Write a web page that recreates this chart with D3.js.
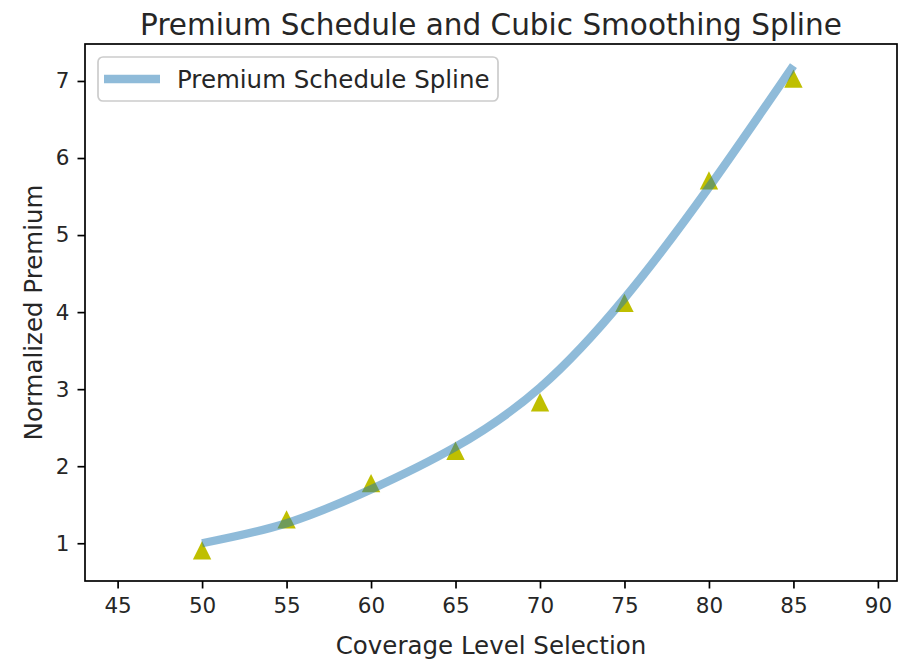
<!DOCTYPE html>
<html>
<head>
<meta charset="utf-8">
<script src="https://cdn.jsdelivr.net/npm/d3@7"></script>
<style>
  body { margin: 0; background: #fff; }
  text { font-family: "DejaVu Sans", sans-serif; fill: #262626; }
</style>
</head>
<body>
<div id="chart"></div>
<script>
// premium schedule points (the yellow triangles)
var coverage = [50, 55, 60, 65, 70, 75, 80, 85];
var premium = [0.91, 1.31, 1.78, 2.2, 2.83, 4.12, 5.71, 7.03];

var splineX = [50, 55, 60, 65, 70, 75, 80, 85];
var splineY = [1.0, 1.26, 1.7, 2.25, 3.02, 4.18, 5.62, 7.2];

var xTicks = [45, 50, 55, 60, 65, 70, 75, 80, 85, 90];
var yTicks = [1, 2, 3, 4, 5, 6, 7];

var svgWidth = 899;
var svgHeight = 662;

var chartMargin = {
    top: 44,
    right: 2,
    left: 85,
    bottom: 81};

var chartWidth = svgWidth - chartMargin.left - chartMargin.right;
var chartHeight = svgHeight - chartMargin.top - chartMargin.bottom;

var svg = d3.select("#chart")
    .append("svg")
    .attr("width", svgWidth)
    .attr("height", svgHeight);

var chartGroup = svg.append("g")
    .attr("transform", `translate(${chartMargin.left}, ${chartMargin.top})`);

var xLinearScale = d3.scaleLinear()
    .domain([43.07, 91.13])
    .range([0, chartWidth]);

var yLinearScale = d3.scaleLinear()
    .domain([0.51, 7.48])
    .range([chartHeight, 0]);

// axes
var bottomAxis = d3.axisBottom(xLinearScale).tickValues(xTicks).tickSize(7.5).tickPadding(9)
    .tickFormat(d3.format("d"));
var leftAxis = d3.axisLeft(yLinearScale).tickValues(yTicks).tickSize(7.5).tickPadding(8)
    .tickFormat(d3.format("d"));

var xAxis = chartGroup.append("g")
    .attr("transform", `translate(0, ${chartHeight})`)
    .call(bottomAxis);

var yAxis = chartGroup.append("g")
    .call(leftAxis);

[xAxis, yAxis].forEach(function(ax) {
    ax.select(".domain").remove();
    ax.selectAll("line").attr("stroke", "#000").attr("stroke-width", 1.7);
    ax.selectAll("text")
        .style("font-family", "DejaVu Sans")
        .style("font-size", "21.5px")
        .attr("fill", "#262626");
});

// clip so the spline stays inside the frame
chartGroup.append("clipPath")
    .attr("id", "clip")
    .append("rect")
    .attr("width", chartWidth)
    .attr("height", chartHeight);

// triangles first, spline on top (alpha shows over them)
var triSize = 9.2;
chartGroup.selectAll(".tri")
    .data(coverage)
    .enter()
    .append("path")
    .attr("class", "tri")
    .attr("d", `M0,${-triSize}L${-triSize},${triSize}L${triSize},${triSize}Z`)
    .attr("transform", (d, i) => `translate(${xLinearScale(d)}, ${yLinearScale(premium[i])})`)
    .attr("fill", "#bfbf00");

var splineLine = d3.line()
    .x(d => xLinearScale(d[0]))
    .y(d => yLinearScale(d[1]))
    .curve(d3.curveNatural);

chartGroup.append("path")
    .datum(splineX.map((x, i) => [x, splineY[i]]))
    .attr("d", splineLine)
    .attr("clip-path", "url(#clip)")
    .attr("fill", "none")
    .attr("stroke", "#1f77b4")
    .attr("stroke-opacity", 0.5)
    .attr("stroke-width", 8.4);

// frame
chartGroup.append("rect")
    .attr("width", chartWidth)
    .attr("height", chartHeight)
    .attr("fill", "none")
    .attr("stroke", "#000")
    .attr("stroke-width", 1.7);

// legend
var legend = chartGroup.append("g")
    .attr("transform", "translate(13, 13)");

legend.append("rect")
    .attr("width", 400)
    .attr("height", 44)
    .attr("rx", 5)
    .attr("fill", "#fff")
    .attr("fill-opacity", 0.8)
    .attr("stroke", "#cccccc")
    .attr("stroke-width", 1.7);

legend.append("line")
    .attr("x1", 6)
    .attr("x2", 62)
    .attr("y1", 22)
    .attr("y2", 22)
    .attr("stroke", "#1f77b4")
    .attr("stroke-opacity", 0.5)
    .attr("stroke-width", 8.4);

legend.append("text")
    .attr("x", 79)
    .attr("y", 22)
    .attr("dy", "0.35em")
    .style("font-size", "24.5px")
    .text("Premium Schedule Spline");

// titles
svg.append("text")
    .attr("x", chartMargin.left + chartWidth / 2)
    .attr("y", 35)
    .attr("text-anchor", "middle")
    .style("font-size", "29.5px")
    .text("Premium Schedule and Cubic Smoothing Spline");

svg.append("text")
    .attr("x", chartMargin.left + chartWidth / 2)
    .attr("y", 654)
    .attr("text-anchor", "middle")
    .style("font-size", "24.5px")
    .text("Coverage Level Selection");

svg.append("text")
    .attr("transform", `translate(42, ${chartMargin.top + chartHeight / 2}) rotate(-90)`)
    .attr("text-anchor", "middle")
    .style("font-size", "24.5px")
    .text("Normalized Premium");
</script>
</body>
</html>
